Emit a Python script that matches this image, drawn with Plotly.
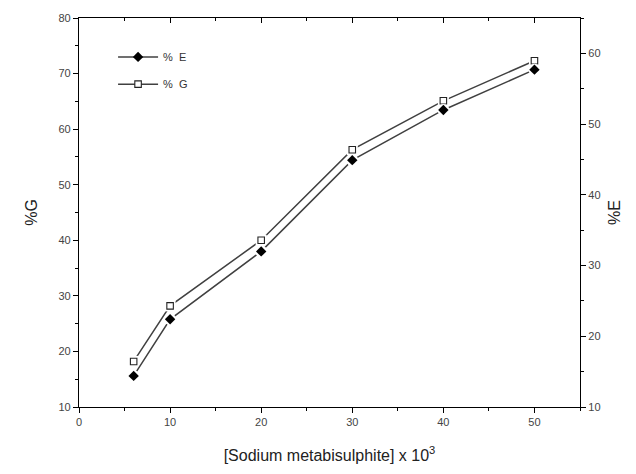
import plotly.graph_objects as go

# Data
conc = [6, 10, 20, 30, 40, 50]
pct_G = [18.2, 28.2, 40.0, 56.3, 65.1, 72.3]   # left axis
pct_E = [14.4, 22.4, 32.0, 44.9, 52.0, 57.7]   # right axis

x_ticks = [0, 10, 20, 30, 40, 50]
g_ticks = [10, 20, 30, 40, 50, 60, 70, 80]
e_ticks = [10, 20, 30, 40, 50, 60]

LINE = "#404040"
FONT = "Liberation Sans, Arial, sans-serif"

fig = go.Figure()

# connecting lines
fig.add_trace(go.Scatter(x=conc, y=pct_E, yaxis="y2", mode="lines",
                         line=dict(color=LINE, width=1.5), showlegend=False, hoverinfo="skip"))
fig.add_trace(go.Scatter(x=conc, y=pct_G, yaxis="y", mode="lines",
                         line=dict(color=LINE, width=1.5), showlegend=False, hoverinfo="skip"))
# white halos to create gaps between lines and symbols
fig.add_trace(go.Scatter(x=conc, y=pct_E, yaxis="y2", mode="markers",
                         marker=dict(symbol="circle", size=12, color="white"),
                         showlegend=False, hoverinfo="skip"))
fig.add_trace(go.Scatter(x=conc, y=pct_G, yaxis="y", mode="markers",
                         marker=dict(symbol="square", size=11, color="white"),
                         showlegend=False, hoverinfo="skip"))
# symbols
fig.add_trace(go.Scatter(x=conc, y=pct_E, yaxis="y2", mode="markers",
                         marker=dict(symbol="diamond", size=8, color="black"),
                         showlegend=False))
fig.add_trace(go.Scatter(x=conc, y=pct_G, yaxis="y", mode="markers",
                         marker=dict(symbol="square", size=6.5, color="white",
                                     line=dict(color="#222", width=1.1)),
                         showlegend=False))
# legend entries
fig.add_trace(go.Scatter(x=[None], y=[None], mode="lines+markers", name="%\u00a0\u00a0E",
                         line=dict(color=LINE, width=1.5),
                         marker=dict(symbol="diamond", size=8, color="black"),
                         legend="legend"))
fig.add_trace(go.Scatter(x=[None], y=[None], mode="lines+markers", name="%\u00a0\u00a0G",
                         line=dict(color=LINE, width=1.5),
                         marker=dict(symbol="square", size=6.5, color="white",
                                     line=dict(color="#222", width=1.1)),
                         legend="legend2"))

tickfont = dict(family=FONT, size=11, color="#444")
titlefont = dict(family=FONT, size=16, color="#222")
legfont = dict(family=FONT, size=11, color="#333")

fig.update_layout(
    width=636, height=474,
    margin=dict(l=79, r=56, t=18, b=67),
    paper_bgcolor="white", plot_bgcolor="white",
    xaxis=dict(range=[0, 55], tickvals=x_ticks, ticks="outside", ticklen=5,
               tickcolor="black", showline=True, linecolor="black", linewidth=1.2,
               showgrid=False, zeroline=False, tickfont=tickfont,
               minor=dict(ticks="outside", dtick=5, ticklen=3, tickcolor="black"),
               title=dict(text="[Sodium metabisulphite] x 10<sup>3</sup>",
                          font=titlefont, standoff=22)),
    xaxis2=dict(range=[0, 55], overlaying="x", side="top", tickvals=x_ticks,
                ticks="inside", ticklen=5, tickcolor="black", showticklabels=False,
                showline=True, linecolor="black", linewidth=1.2, showgrid=False,
                zeroline=False,
                minor=dict(ticks="inside", dtick=5, ticklen=3, tickcolor="black")),
    yaxis=dict(range=[10, 80], tickvals=g_ticks, ticks="outside", ticklen=5,
               tickcolor="black", showline=True, linecolor="black", linewidth=1.2,
               showgrid=False, zeroline=False, tickfont=tickfont,
               minor=dict(ticks="outside", dtick=5, ticklen=3, tickcolor="black"),
               title=dict(text="%G", font=titlefont, standoff=16)),
    yaxis2=dict(range=[10, 65], tickvals=e_ticks, overlaying="y", side="right",
                ticks="outside", ticklen=5, tickcolor="black", showline=True,
                linecolor="black", linewidth=1.2, showgrid=False, zeroline=False,
                tickfont=tickfont,
                minor=dict(ticks="outside", dtick=5, ticklen=3, tickcolor="black"),
                title=dict(text="%E", font=titlefont, standoff=9)),
    legend=dict(x=0.068, y=0.90, xanchor="left", yanchor="middle", itemwidth=40,
                bgcolor="rgba(0,0,0,0)", font=legfont),
    legend2=dict(x=0.068, y=0.83, xanchor="left", yanchor="middle", itemwidth=40,
                 bgcolor="rgba(0,0,0,0)", font=legfont),
)

# invisible point on xaxis2 so the top axis is drawn
fig.add_trace(go.Scatter(x=[0], y=[10], xaxis="x2", mode="markers",
                         marker=dict(opacity=0), showlegend=False, hoverinfo="skip"))

fig.write_html("out.html")
